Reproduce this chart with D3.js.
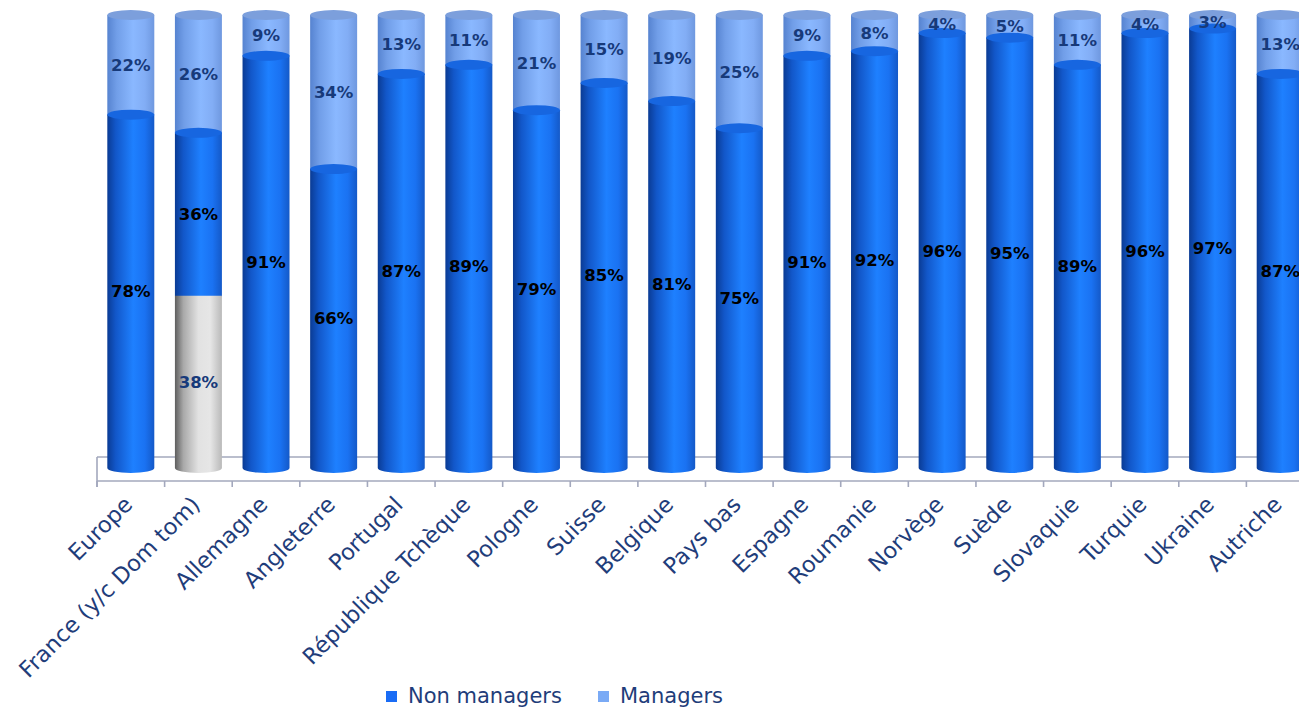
<!DOCTYPE html>
<html>
<head>
<meta charset="utf-8">
<script src="https://cdn.jsdelivr.net/npm/d3@7"></script>
<style>
  html, body { margin: 0; padding: 0; background: #ffffff; }
  svg { display: block; }
</style>
</head>
<body>
<svg id="chart" width="1299" height="708"></svg>
<script>
// Share of managers / non managers by country (percent)
const categories = ["Europe", "France (y/c Dom tom)", "Allemagne", "Angleterre", "Portugal",
  "République Tchèque", "Pologne", "Suisse", "Belgique", "Pays bas", "Espagne", "Roumanie",
  "Norvège", "Suède", "Slovaquie", "Turquie", "Ukraine", "Autriche"];
const otherShare   = [0, 38, 0, 0, 0, 0, 0, 0, 0, 0, 0, 0, 0, 0, 0, 0, 0, 0];
const nonManagers  = [78, 36, 91, 66, 87, 89, 79, 85, 81, 75, 91, 92, 96, 95, 89, 96, 97, 87];
const managers     = [22, 26, 9, 34, 13, 11, 21, 15, 19, 25, 9, 8, 4, 5, 11, 4, 3, 13];
const legendLabels = ["Non managers", "Managers"];

const svg = d3.select("#chart");
const defs = svg.append("defs");

const x = d3.scaleBand().domain(categories).range([97, 1314]).paddingInner(0.305).paddingOuter(0.1525);
const y = d3.scaleLinear().domain([0, 100]).range([468, 15]);
const step = x.step();
const bw = x.bandwidth();
const ry = 5;

// Cylinder shading for each series
const styles = {
  other:   { stops: [[0, "#5e5e5e"], [0.18, "#a9a9a9"], [0.5, "#e2e2e2"], [0.75, "#e6e6e6"], [1, "#b9b9b9"]], top: "#d4d4d4", label: "#173a7a" },
  non:     { stops: [[0, "#0a3b94"], [0.18, "#1257c9"], [0.55, "#1e80ff"], [0.8, "#1a72f2"], [1, "#1459c8"]], top: "#1766e0", label: "#000000" },
  mgr:     { stops: [[0, "#5683d0"], [0.2, "#719ee8"], [0.55, "#8ab8ff"], [0.8, "#82adf5"], [1, "#6f98df"]], top: "#7c9fdc", label: "#173a7a" }
};
Object.entries(styles).forEach(([k, s]) => {
  const g = defs.append("linearGradient").attr("id", "grad-" + k)
    .attr("x1", "0%").attr("x2", "100%").attr("y1", "0%").attr("y2", "0%");
  s.stops.forEach(([o, c]) => g.append("stop").attr("offset", o).attr("stop-color", c));
});

// Floor of the plot area
const floor = svg.append("g").attr("stroke", "#a3a8bd").attr("stroke-width", 1.6).attr("fill", "none");
const x0 = x.range()[0], x1 = x.range()[1];
floor.append("line").attr("x1", x0).attr("x2", x1).attr("y1", 457).attr("y2", 457);
floor.append("line").attr("x1", x0).attr("x2", x1).attr("y1", 481).attr("y2", 481);
floor.append("line").attr("x1", x0).attr("x2", x0).attr("y1", 457).attr("y2", 487);
d3.range(categories.length + 1).forEach(i => {
  const tx = x0 + i * step;
  floor.append("line").attr("x1", tx).attr("x2", tx).attr("y1", 481).attr("y2", 487);
});

// Stacked cylinders
const bars = svg.append("g");
categories.forEach((c, i) => {
  const segs = [
    { key: "other", v: otherShare[i] },
    { key: "non", v: nonManagers[i] },
    { key: "mgr", v: managers[i] }
  ];
  let acc = 0;
  segs.forEach(s => { s.y0 = acc; acc += s.v; s.y1 = acc; });
  const visible = segs.filter(s => s.v > 0);
  const left = x(c), right = left + bw, cx = left + bw / 2, rx = bw / 2;
  const g = bars.append("g");
  // top-most segment first so that lower tops sit over it
  visible.slice().reverse().forEach(s => {
    const yt = y(s.y1), yb = y(s.y0);
    g.append("path")
      .attr("d", `M${left},${yt} L${left},${yb} A${rx},${ry} 0 0 0 ${right},${yb} L${right},${yt} Z`)
      .attr("fill", `url(#grad-${s.key})`);
    if (s.key !== "other") {
      g.append("ellipse").attr("cx", cx).attr("cy", yt).attr("rx", rx).attr("ry", ry)
        .attr("fill", styles[s.key].top);
    }
  });
  // value labels
  visible.forEach(s => {
    g.append("text")
      .attr("x", cx)
      .attr("y", (y(s.y0) + y(s.y1)) / 2)
      .attr("dy", "0.36em")
      .attr("text-anchor", "middle")
      .attr("font-family", "DejaVu Sans, sans-serif")
      .attr("font-weight", "bold")
      .attr("font-size", 16.5)
      .attr("fill", styles[s.key].label)
      .text(s.v + "%");
  });
});

// Category labels
const labels = svg.append("g");
categories.forEach(c => {
  const cx = x(c) + bw / 2;
  labels.append("text")
    .attr("transform", `translate(${cx + 3},${506}) rotate(-45)`)
    .attr("text-anchor", "end")
    .attr("font-family", "DejaVu Sans, sans-serif")
    .attr("font-size", 22.5)
    .attr("fill", "#1f3d7a")
    .text(c);
});

// Legend
const legendColors = ["#1a6cf5", "#7aaaf5"];
const legendX = [386, 598];
legendLabels.forEach((l, i) => {
  svg.append("rect").attr("x", legendX[i]).attr("y", 691).attr("width", 11).attr("height", 11)
    .attr("fill", legendColors[i]);
  svg.append("text").attr("x", legendX[i] + 22).attr("y", 703)
    .attr("font-family", "DejaVu Sans, sans-serif")
    .attr("font-size", 21)
    .attr("fill", "#1f3d7a")
    .text(l);
});
</script>
</body>
</html>
